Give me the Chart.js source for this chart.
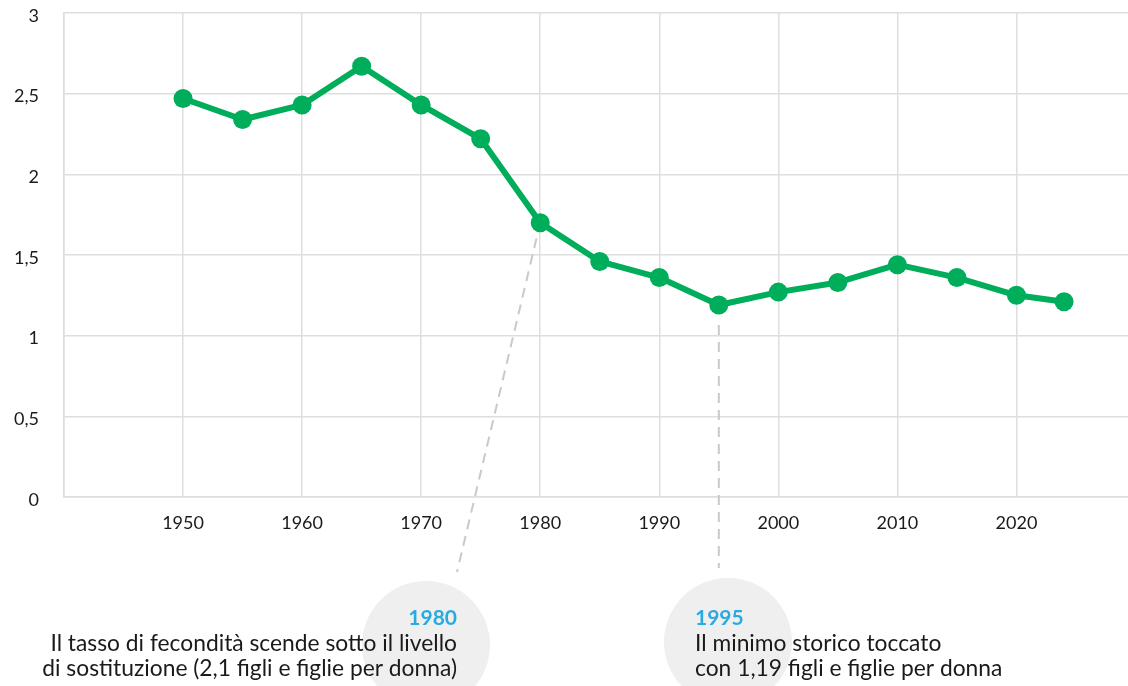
<!DOCTYPE html>
<html lang="it">
<head>
<meta charset="utf-8">
<title>Tasso di fecondità in Italia</title>
<script src="https://cdn.jsdelivr.net/npm/chart.js@4/dist/chart.umd.min.js"></script>
<style>
  html, body { margin: 0; padding: 0; background: #fff; overflow: hidden; }
  #fecondita { position: absolute; left: 0; top: 0; }
</style>
</head>
<body>
<canvas id="fecondita" width="1145" height="686"></canvas>
<script>
// dati: figli per donna
const anni = [1950, 1955, 1960, 1965, 1970, 1975, 1980, 1985, 1990, 1995, 2000, 2005, 2010, 2015, 2020, 2024];
const tassi = [2.47, 2.34, 2.43, 2.67, 2.43, 2.22, 1.70, 1.46, 1.36, 1.19, 1.27, 1.33, 1.44, 1.36, 1.25, 1.21];
const etichetteX = [1950, 1960, 1970, 1980, 1990, 2000, 2010, 2020];
const etichetteY = [0, 0.5, 1, 1.5, 2, 2.5, 3];

// note sotto il grafico
const nota1980 = { anno: 1980, valore: 1.70, titolo: '1980', righe: ['Il tasso di fecondità scende sotto il livello', 'di sostituzione (2,1 figli e figlie per donna)'] };
const nota1995 = { anno: 1995, valore: 1.19, titolo: '1995', righe: ['Il minimo storico toccato', 'con 1,19 figli e figlie per donna'] };

const VERDE = '#00ad5b';
const GRIGLIA = '#dedede';
const BLU = '#29abe2';
const FONT = 'Lato, "Noto Sans", sans-serif';

const note = {
  id: 'note',
  afterDraw(chart) {
    const ctx = chart.ctx;
    const sx = chart.scales.x, sy = chart.scales.y;
    ctx.save();

    // cerchi grigi
    ctx.fillStyle = '#efefef';
    ctx.beginPath(); ctx.arc(426, 645, 64, 0, Math.PI * 2); ctx.fill();
    ctx.beginPath(); ctx.arc(728, 642, 64, 0, Math.PI * 2); ctx.fill();

    // linee tratteggiate
    ctx.strokeStyle = '#c9c9c9';
    ctx.lineWidth = 2;
    ctx.setLineDash([10, 7]);
    let px = sx.getPixelForValue(nota1980.anno), py = sy.getPixelForValue(nota1980.valore);
    let ex = 457, ey = 572;
    let len = Math.hypot(ex - px, ey - py);
    ctx.beginPath();
    ctx.moveTo(px + (ex - px) * 16 / len, py + (ey - py) * 16 / len);
    ctx.lineTo(ex, ey);
    ctx.stroke();
    px = sx.getPixelForValue(nota1995.anno); py = sy.getPixelForValue(nota1995.valore);
    ctx.beginPath();
    ctx.moveTo(px, py + 20);
    ctx.lineTo(px, 568);
    ctx.stroke();
    ctx.setLineDash([]);

    // testi
    ctx.textBaseline = 'middle';
    ctx.textAlign = 'right';
    ctx.fillStyle = BLU;
    ctx.font = 'bold 21px ' + FONT;
    ctx.fillText(nota1980.titolo, 457, 618);
    ctx.fillStyle = '#1a1a1a';
    ctx.font = '22.8px ' + FONT;
    nota1980.righe.forEach((r, i) => ctx.fillText(r, 457, 644 + i * 25));

    ctx.textAlign = 'left';
    ctx.fillStyle = BLU;
    ctx.font = 'bold 21px ' + FONT;
    ctx.fillText(nota1995.titolo, 695, 618);
    ctx.fillStyle = '#1a1a1a';
    ctx.font = '22.8px ' + FONT;
    nota1995.righe.forEach((r, i) => ctx.fillText(r, 695, 644 + i * 25));

    ctx.restore();
  }
};

new Chart(document.getElementById('fecondita'), {
  type: 'line',
  data: {
    datasets: [{
      data: anni.map((a, i) => ({ x: a, y: tassi[i] })),
      borderColor: VERDE,
      backgroundColor: VERDE,
      borderWidth: 6,
      borderJoinStyle: 'round',
      pointRadius: 9.5,
      pointBorderWidth: 0,
      pointBackgroundColor: VERDE,
      tension: 0
    }]
  },
  options: {
    responsive: false,
    animation: false,
    layout: { padding: { top: 13, right: 0, bottom: 0, left: 0 } },
    plugins: { legend: { display: false }, tooltip: { enabled: false } },
    scales: {
      x: {
        type: 'linear',
        min: 1940,
        max: 2030,
        afterBuildTicks: s => { s.ticks = [1940].concat(etichetteX, [2030]).map(v => ({ value: v })); },
        afterFit: s => { s.height = 189; s.paddingLeft = 0; s.paddingRight = 0; },
        grid: { color: GRIGLIA, lineWidth: 1.5, drawTicks: false },
        border: { color: GRIGLIA, width: 1.5 },
        ticks: {
          padding: 15,
          color: '#1a1a1a',
          font: { family: FONT, size: 18 },
          maxRotation: 0,
          callback: v => etichetteX.includes(v) ? String(v) : ''
        }
      },
      y: {
        min: 0,
        max: 3,
        afterBuildTicks: s => { s.ticks = etichetteY.map(v => ({ value: v })); },
        afterFit: s => { s.width = 64; s.paddingTop = 0; s.paddingBottom = 0; },
        grid: { color: GRIGLIA, lineWidth: 1.5, drawTicks: false },
        border: { color: GRIGLIA, width: 1.5 },
        ticks: {
          padding: 25,
          labelOffset: 3,
          color: '#1a1a1a',
          font: { family: FONT, size: 18 },
          callback: v => String(v).replace('.', ',')
        }
      }
    }
  },
  plugins: [note]
});
</script>
</body>
</html>
